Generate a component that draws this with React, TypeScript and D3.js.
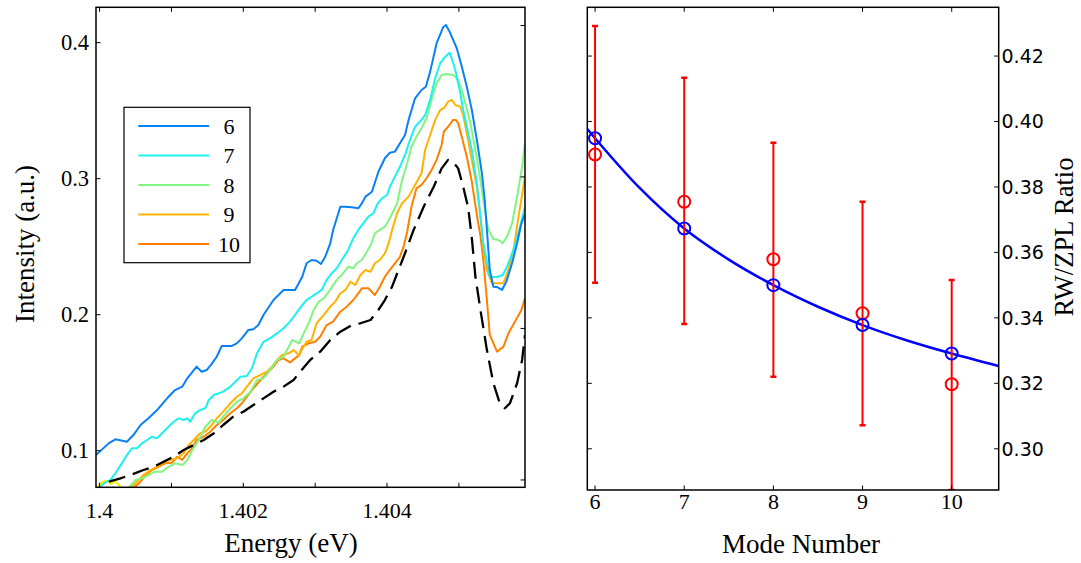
import React from "react";
import * as d3 from "d3";

// ---------- Left panel data: Energy (eV) vs Intensity (a.u.) ----------
const mode6: [number, number][] = [[1.39995,0.0968],[1.400125,0.1054],[1.40022,0.1084],[1.40038,0.1066],[1.40047,0.1115],[1.40057,0.1189],[1.40068,0.1238],[1.4008,0.1299],[1.40096,0.1397],[1.40105,0.1446],[1.40115,0.1471],[1.40122,0.1532],[1.40135,0.1618],[1.40142,0.1581],[1.40149,0.1593],[1.40156,0.1638],[1.40163,0.1691],[1.4017,0.177],[1.40184,0.177],[1.40191,0.179],[1.40198,0.1826],[1.40207,0.1888],[1.40214,0.1893],[1.40221,0.1924],[1.40228,0.1998],[1.40242,0.2108],[1.40256,0.2182],[1.40272,0.2182],[1.40282,0.2279],[1.40288,0.2378],[1.40295,0.2402],[1.40302,0.2397],[1.40308,0.2373],[1.40314,0.2426],[1.40321,0.2525],[1.40325,0.2623],[1.40335,0.2794],[1.40342,0.2794],[1.40351,0.279],[1.4036,0.2782],[1.40365,0.2819],[1.4037,0.2868],[1.40379,0.2904],[1.40388,0.3051],[1.40397,0.315],[1.40404,0.3191],[1.40411,0.3199],[1.40418,0.326],[1.40425,0.3321],[1.4043,0.3432],[1.40439,0.3591],[1.40448,0.3652],[1.40454,0.3676],[1.4046,0.3787],[1.40469,0.3996],[1.40478,0.4113],[1.40482,0.413],[1.40487,0.4081],[1.40492,0.402],[1.40497,0.3959],[1.40504,0.3824],[1.40511,0.3676],[1.40518,0.3505],[1.40525,0.3285],[1.40532,0.304],[1.40536,0.2843],[1.40543,0.2329],[1.40548,0.2206],[1.40554,0.2201],[1.4056,0.2182],[1.40566,0.2243],[1.40574,0.2378],[1.40581,0.2525],[1.40587,0.2672],[1.40592,0.274]];

const mode7: [number, number][] = [[1.39999,0.0724],[1.40006,0.076],[1.40015,0.0785],[1.40022,0.0834],[1.40031,0.0907],[1.40038,0.0968],[1.40045,0.1018],[1.40052,0.1018],[1.40059,0.1054],[1.40066,0.1079],[1.40073,0.1103],[1.4008,0.1091],[1.40087,0.1128],[1.40096,0.1176],[1.40103,0.1213],[1.4011,0.1238],[1.40117,0.1226],[1.40122,0.1238],[1.40126,0.1213],[1.40133,0.1275],[1.4014,0.1299],[1.40147,0.1312],[1.40152,0.1373],[1.40159,0.141],[1.40166,0.1422],[1.40172,0.1434],[1.40182,0.1471],[1.40196,0.1544],[1.40205,0.1549],[1.40212,0.1606],[1.40219,0.1716],[1.40228,0.1801],[1.40237,0.1826],[1.40247,0.1863],[1.40256,0.19],[1.40265,0.1949],[1.40272,0.1998],[1.40282,0.2071],[1.40288,0.2108],[1.40295,0.2132],[1.40302,0.2157],[1.40309,0.2182],[1.40316,0.2255],[1.40323,0.2304],[1.4033,0.2341],[1.40337,0.2402],[1.40346,0.2476],[1.40353,0.2562],[1.4036,0.2623],[1.40367,0.2672],[1.40374,0.2721],[1.40381,0.2746],[1.40387,0.2819],[1.40393,0.2856],[1.404,0.288],[1.40404,0.2941],[1.40411,0.3015],[1.40418,0.3088],[1.40425,0.3174],[1.40432,0.3285],[1.40439,0.3382],[1.40448,0.3432],[1.40453,0.3468],[1.4046,0.3579],[1.40467,0.3738],[1.40474,0.3849],[1.40481,0.3897],[1.40487,0.3926],[1.4049,0.3885],[1.40495,0.3799],[1.40502,0.3628],[1.40506,0.3505],[1.40511,0.3382],[1.40518,0.3211],[1.40525,0.2966],[1.4053,0.2721],[1.40534,0.2525],[1.40543,0.2279],[1.40553,0.2277],[1.40561,0.2292],[1.40567,0.2353],[1.40576,0.2476],[1.40585,0.2647],[1.40592,0.2794]];

const mode8: [number, number][] = [[1.4004,0.0724],[1.4005,0.0785],[1.40059,0.0797],[1.40068,0.0821],[1.40077,0.0846],[1.40087,0.0846],[1.40096,0.0882],[1.40105,0.0907],[1.40115,0.0895],[1.40122,0.0932],[1.40129,0.1005],[1.40138,0.1079],[1.40147,0.1176],[1.40156,0.1226],[1.40166,0.1206],[1.40172,0.125],[1.40182,0.1312],[1.40191,0.136],[1.402,0.1385],[1.4021,0.1434],[1.40219,0.152],[1.40228,0.1532],[1.40237,0.1593],[1.40247,0.1667],[1.40256,0.1691],[1.40268,0.1814],[1.40278,0.179],[1.40284,0.1863],[1.40291,0.1937],[1.40298,0.2035],[1.40305,0.2096],[1.40312,0.2121],[1.40319,0.2169],[1.40325,0.2218],[1.40332,0.2268],[1.40339,0.2304],[1.40346,0.2353],[1.40353,0.2341],[1.40358,0.2378],[1.40365,0.2402],[1.40372,0.2463],[1.40378,0.252],[1.40383,0.2599],[1.4039,0.2623],[1.40397,0.2647],[1.40404,0.2709],[1.40414,0.2819],[1.40421,0.299],[1.40428,0.3113],[1.40434,0.3235],[1.40441,0.3309],[1.40448,0.3371],[1.40455,0.3444],[1.40462,0.3579],[1.40469,0.3701],[1.40476,0.3763],[1.40483,0.377],[1.40492,0.3763],[1.40499,0.3726],[1.40504,0.3652],[1.40509,0.3554],[1.40516,0.3407],[1.40523,0.3211],[1.4053,0.299],[1.40536,0.277],[1.40541,0.2623],[1.40548,0.2557],[1.40555,0.2549],[1.40561,0.2525],[1.40567,0.2574],[1.40574,0.2672],[1.40581,0.2868],[1.40588,0.3088],[1.40592,0.326]];

const mode9: [number, number][] = [[1.40043,0.0724],[1.40052,0.0772],[1.40061,0.0821],[1.40071,0.0858],[1.4008,0.0882],[1.40089,0.0919],[1.40098,0.0932],[1.40108,0.0944],[1.40117,0.0981],[1.40124,0.1042],[1.40131,0.1079],[1.4014,0.1128],[1.40147,0.114],[1.40154,0.1176],[1.40163,0.1238],[1.40172,0.1287],[1.40182,0.1349],[1.40191,0.1397],[1.40198,0.1422],[1.40205,0.1471],[1.40214,0.1532],[1.40224,0.1557],[1.40233,0.1581],[1.4024,0.1618],[1.40247,0.1667],[1.40254,0.1704],[1.40263,0.1716],[1.4027,0.174],[1.40277,0.1704],[1.40284,0.1765],[1.40288,0.1801],[1.40295,0.1814],[1.40302,0.1937],[1.40312,0.1998],[1.40321,0.2059],[1.40328,0.2096],[1.40335,0.2157],[1.40342,0.2182],[1.40349,0.2243],[1.40356,0.2218],[1.40363,0.2292],[1.4037,0.2329],[1.40377,0.2316],[1.40383,0.2378],[1.4039,0.2402],[1.40397,0.2451],[1.40402,0.252],[1.40407,0.2623],[1.40414,0.2746],[1.40421,0.2819],[1.4043,0.2868],[1.40439,0.2954],[1.40448,0.304],[1.40453,0.3211],[1.4046,0.3321],[1.40467,0.3432],[1.40474,0.3505],[1.40479,0.3518],[1.40485,0.3566],[1.4049,0.3579],[1.40495,0.3542],[1.40502,0.3529],[1.40506,0.3468],[1.40511,0.3334],[1.40518,0.3138],[1.40525,0.2941],[1.4053,0.2721],[1.40534,0.25],[1.40539,0.2329],[1.40546,0.2231],[1.40555,0.2231],[1.40562,0.2231],[1.40569,0.2329],[1.40576,0.2476],[1.40583,0.2721],[1.40592,0.3015]];

const mode10: [number, number][] = [[1.40047,0.0724],[1.40057,0.0772],[1.40064,0.0821],[1.40073,0.0858],[1.40082,0.0882],[1.40091,0.0907],[1.40101,0.0912],[1.40108,0.0956],[1.40115,0.0932],[1.40122,0.0981],[1.40129,0.1018],[1.40135,0.1079],[1.40145,0.1103],[1.40154,0.114],[1.40163,0.1189],[1.40172,0.1226],[1.40182,0.1275],[1.40191,0.1312],[1.40198,0.1349],[1.40205,0.1397],[1.40214,0.1459],[1.40224,0.152],[1.40233,0.1569],[1.40242,0.1618],[1.40249,0.1667],[1.40256,0.1679],[1.40265,0.1649],[1.40272,0.1679],[1.40278,0.1704],[1.40282,0.1765],[1.40291,0.179],[1.403,0.1801],[1.40307,0.1838],[1.40316,0.1924],[1.40325,0.1949],[1.40335,0.2022],[1.40344,0.2059],[1.40353,0.2108],[1.4036,0.2157],[1.40365,0.2194],[1.40374,0.2194],[1.40383,0.2145],[1.4039,0.2206],[1.40397,0.2279],[1.40404,0.2329],[1.40411,0.2378],[1.40418,0.2426],[1.40423,0.25],[1.40428,0.2608],[1.40434,0.2794],[1.40441,0.2929],[1.40448,0.2954],[1.40455,0.3003],[1.40462,0.3064],[1.40469,0.3138],[1.40476,0.3248],[1.40479,0.3346],[1.40485,0.3382],[1.40492,0.3432],[1.40496,0.3432],[1.40499,0.3407],[1.40504,0.3309],[1.40511,0.3162],[1.40518,0.2978],[1.40525,0.2733],[1.4053,0.2579],[1.40534,0.2402],[1.40539,0.2108],[1.40543,0.1851],[1.40553,0.1728],[1.40562,0.1765],[1.40569,0.1863],[1.40578,0.1949],[1.40587,0.2035],[1.40592,0.2121]];

const fitCurve: [number, number][] = [[1.40013,0.0772],[1.40029,0.0797],[1.40043,0.0821],[1.40061,0.0858],[1.40075,0.0882],[1.40089,0.0919],[1.40103,0.0956],[1.40117,0.1005],[1.40131,0.1042],[1.40145,0.1079],[1.40159,0.1128],[1.40172,0.1189],[1.40186,0.125],[1.402,0.1287],[1.40214,0.1336],[1.40228,0.1385],[1.40242,0.1434],[1.40256,0.1471],[1.4027,0.152],[1.40279,0.1581],[1.40293,0.1667],[1.40307,0.1728],[1.40321,0.1814],[1.40335,0.1875],[1.40351,0.1924],[1.40363,0.1937],[1.40377,0.1961],[1.40388,0.2035],[1.40397,0.2108],[1.40407,0.2206],[1.40416,0.2329],[1.40425,0.2451],[1.40437,0.2623],[1.40451,0.2794],[1.40465,0.2941],[1.40476,0.3076],[1.40485,0.3138],[1.40492,0.3123],[1.40499,0.3076],[1.40506,0.2941],[1.40513,0.2785],[1.40518,0.2564],[1.40523,0.2279],[1.4053,0.2035],[1.40539,0.174],[1.40548,0.1496],[1.40557,0.1349],[1.40564,0.1312],[1.40571,0.1349],[1.40581,0.1496],[1.40588,0.1667],[1.40592,0.1851]];

const extraTrace: [number, number][] = [[1.39997,0.0731],[1.40001,0.0759],[1.40007,0.0777],[1.40012,0.0774],[1.40016,0.0755],[1.4002,0.0777],[1.40026,0.0755],[1.4003,0.0726]];

const modeLabels = ["6", "7", "8", "9", "10"];
const modeColors = ["#0a80f5", "#1ef0f0", "#80f580", "#ffb300", "#ff8000"];
const modeSeries = [mode6, mode7, mode8, mode9, mode10];

const leftXTicks = [1.4, 1.401, 1.402, 1.403, 1.404, 1.405];
const leftXLabels = ["1.4", "", "1.402", "", "1.404", ""];
const leftYTicks = [0.1, 0.2, 0.3, 0.4];
const leftYLabels = ["0.1", "0.2", "0.3", "0.4"];
const leftTwinTicks = [0.0785, 0.1899, 0.3013, 0.4126];

// ---------- Right panel data: RW/ZPL ratio vs mode number ----------
const modeNumbers = [6, 7, 8, 9, 10];
const measured = [0.3899, 0.3755, 0.3579, 0.3414, 0.3197];
const errUpper = [0.4292, 0.4134, 0.3935, 0.3755, 0.3516];
const errLower = [0.3507, 0.3381, 0.3220, 0.3072, 0.2874];
const fitted = [0.3949, 0.3673, 0.3500, 0.3378, 0.3291];
const fitLineX = [5.913, 6, 6.5, 7, 7.5, 8, 8.5, 9, 9.5, 10, 10.527];
const fitLineY = [0.3977, 0.3949, 0.3797, 0.3673, 0.3578, 0.3500, 0.3434, 0.3378, 0.3331, 0.3291, 0.3253];
const rightYTicks = [0.30, 0.32, 0.34, 0.36, 0.38, 0.40, 0.42];
const rightXTicks = [6, 7, 8, 9, 10];

const SERIF = "'Liberation Serif', 'Times New Roman', serif";
const SANS = "'DejaVu Sans', 'Bitstream Vera Sans', sans-serif";

export default function App() {
  // left panel geometry
  const L = { x0: 96, x1: 525, y0: 7.3, y1: 487.3 };
  const xL = d3.scaleLinear().domain([1.39995, 1.40592]).range([L.x0, L.x1]);
  const yL = d3.scaleLinear().domain([0.0731, 0.426]).range([L.y1, L.y0]);
  const lineL = d3.line<[number, number]>().x((d) => xL(d[0])).y((d) => yL(d[1]));

  // right panel geometry
  const R = { x0: 587.3, x1: 998.7, y0: 7.3, y1: 490 };
  const xR = d3.scaleLinear().domain([5.913, 10.527]).range([R.x0, R.x1]);
  const yR = d3.scaleLinear().domain([0.2874, 0.4349]).range([R.y1, R.y0]);
  const fitLine = d3
    .line<number>()
    .x((_, i) => xR(fitLineX[i]))
    .y((d) => yR(d))
    .curve(d3.curveMonotoneX);

  const tick = 4.5;
  const legendRowY = (i: number) => 126 + i * 29.5;

  return (
    <svg
      width={1081}
      height={563}
      style={{ position: "absolute", left: 0, top: 0, background: "#fff" }}
    >
      <defs>
        <clipPath id="clipL">
          <rect x={L.x0} y={L.y0} width={L.x1 - L.x0} height={L.y1 - L.y0} />
        </clipPath>
        <clipPath id="clipR">
          <rect x={R.x0} y={R.y0} width={R.x1 - R.x0} height={R.y1 - R.y0} />
        </clipPath>
      </defs>
      <rect x={0} y={0} width={1081} height={563} fill="#fff" />

      {/* ---------------- LEFT PANEL ---------------- */}
      <g clipPath="url(#clipL)" fill="none" strokeLinejoin="round">
        <path d={lineL(extraTrace) || ""} stroke="#f0f000" strokeWidth={2} />
        {modeSeries
          .slice()
          .reverse()
          .map((s, ri) => {
            const i = modeSeries.length - 1 - ri;
            return <path key={i} d={lineL(s) || ""} stroke={modeColors[i]} strokeWidth={2} />;
          })}
        <path d={lineL(fitCurve) || ""} stroke="#000" strokeWidth={2.3} strokeDasharray="17,8" />
      </g>
      <rect x={L.x0} y={L.y0} width={L.x1 - L.x0} height={L.y1 - L.y0} fill="none" stroke="#000" strokeWidth={1.5} />
      {leftXTicks.map((t, i) => (
        <g key={"lx" + i}>
          <line x1={xL(t)} x2={xL(t)} y1={L.y1} y2={L.y1 - tick} stroke="#000" strokeWidth={1} />
          <line x1={xL(t)} x2={xL(t)} y1={L.y0} y2={L.y0 + tick} stroke="#000" strokeWidth={1} />
          {leftXLabels[i] && (
            <text x={xL(t)} y={518} textAnchor="middle" fontFamily={SERIF} fontSize={22} fill="#000">
              {leftXLabels[i]}
            </text>
          )}
        </g>
      ))}
      {leftYTicks.map((t, i) => (
        <g key={"ly" + i}>
          <line x1={L.x0} x2={L.x0 + tick} y1={yL(t)} y2={yL(t)} stroke="#000" strokeWidth={1} />
          <text x={89} y={yL(t)} dy="0.33em" textAnchor="end" fontFamily={SERIF} fontSize={22.5} fill="#000">
            {leftYLabels[i]}
          </text>
        </g>
      ))}
      {leftTwinTicks.map((t, i) => (
        <line key={"lt" + i} x1={L.x1} x2={L.x1 - tick} y1={yL(t)} y2={yL(t)} stroke="#000" strokeWidth={1} />
      ))}
      <text x={291} y={551.5} textAnchor="middle" fontFamily={SERIF} fontSize={27} fill="#000">
        Energy (eV)
      </text>
      <text
        transform={`translate(34,244) rotate(-90)`}
        textAnchor="middle"
        fontFamily={SERIF}
        fontSize={27}
        fill="#000"
      >
        Intensity (a.u.)
      </text>

      {/* legend */}
      <rect x={124} y={107.3} width={126} height={155.4} fill="#fff" stroke="#000" strokeWidth={1.2} />
      {modeLabels.map((lab, i) => (
        <g key={"lg" + i}>
          <line x1={138.3} x2={209} y1={legendRowY(i)} y2={legendRowY(i)} stroke={modeColors[i]} strokeWidth={2.2} />
          <text x={229} y={legendRowY(i)} dy="0.35em" textAnchor="middle" fontFamily={SERIF} fontSize={22} fill="#000">
            {lab}
          </text>
        </g>
      ))}

      {/* ---------------- RIGHT PANEL ---------------- */}
      <g clipPath="url(#clipR)" fill="none">
        <path d={fitLine(fitLineY) || ""} stroke="#0000ff" strokeWidth={2.5} />
        {modeNumbers.map((m, i) => (
          <g key={"eb" + i} stroke="#ff0000" strokeWidth={2}>
            <line x1={xR(m)} x2={xR(m)} y1={yR(errUpper[i])} y2={yR(errLower[i])} />
            <line x1={xR(m) - 3} x2={xR(m) + 3} y1={yR(errUpper[i])} y2={yR(errUpper[i])} strokeWidth={2.5} />
            <line x1={xR(m) - 3} x2={xR(m) + 3} y1={yR(errLower[i])} y2={yR(errLower[i])} strokeWidth={2.5} />
          </g>
        ))}
        {modeNumbers.map((m, i) => (
          <circle key={"ms" + i} cx={xR(m)} cy={yR(measured[i])} r={6} stroke="#ff0000" strokeWidth={2} fill="none" />
        ))}
        {modeNumbers.map((m, i) => (
          <circle key={"ft" + i} cx={xR(m)} cy={yR(fitted[i])} r={6} stroke="#0000ff" strokeWidth={2} fill="none" />
        ))}
      </g>
      <rect x={R.x0} y={R.y0} width={R.x1 - R.x0} height={R.y1 - R.y0} fill="none" stroke="#000" strokeWidth={1.5} />
      {rightXTicks.map((t, i) => (
        <g key={"rx" + i}>
          <line x1={xR(t)} x2={xR(t)} y1={R.y1} y2={R.y1 - tick} stroke="#000" strokeWidth={1} />
          <line x1={xR(t)} x2={xR(t)} y1={R.y0} y2={R.y0 + tick} stroke="#000" strokeWidth={1} />
          <text x={xR(t)} y={509} textAnchor="middle" fontFamily={SERIF} fontSize={22} fill="#000">
            {String(t)}
          </text>
        </g>
      ))}
      {rightYTicks.map((t, i) => (
        <g key={"ry" + i}>
          <line x1={R.x0} x2={R.x0 + tick} y1={yR(t)} y2={yR(t)} stroke="#000" strokeWidth={1} />
          <line x1={R.x1} x2={R.x1 - tick} y1={yR(t)} y2={yR(t)} stroke="#000" strokeWidth={1} />
          <text x={1001.5} y={yR(t)} dy="0.36em" textAnchor="start" fontFamily={SANS} fontSize={19} fill="#000">
            {t.toFixed(2)}
          </text>
        </g>
      ))}
      <text x={801} y={553} textAnchor="middle" fontFamily={SERIF} fontSize={27} fill="#000">
        Mode Number
      </text>
      <text
        transform={`translate(1073,237) rotate(-90)`}
        textAnchor="middle"
        fontFamily={SERIF}
        fontSize={26.5}
        fill="#000"
      >
        RW/ZPL Ratio
      </text>
    </svg>
  );
}
